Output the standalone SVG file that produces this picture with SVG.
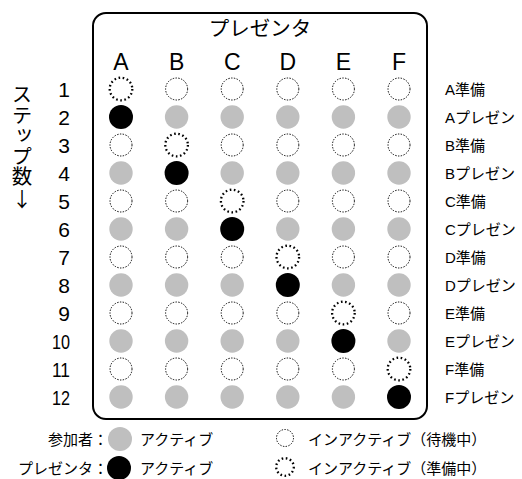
<svg xmlns="http://www.w3.org/2000/svg" width="522" height="479" viewBox="0 0 522 479">
<style>
text{font-family:"Liberation Sans","Noto Sans CJK JP",sans-serif;fill:#000}
.jp{font-family:"Noto Sans CJK JP",sans-serif}
.col{font-size:23px;text-anchor:middle}
.num{font-size:21px;text-anchor:end}
.lbl{font-size:15px}
.leg{font-size:15px}
.w{fill:#fff;stroke:#000;stroke-width:1;stroke-dasharray:1.4 1.4}
.p{fill:#fff;stroke:#000;stroke-width:2.3;stroke-dasharray:1.6 2.6}
.a{fill:#bfbfbf}
.k{fill:#000}
</style>
<g id="frame">
<rect x="93" y="13" width="334" height="406" rx="13" ry="13" fill="none" stroke="#000" stroke-width="2"/>
<text class="jp" x="260" y="36" font-size="20.5" text-anchor="middle">プレゼンタ</text>
</g>
<g id="columns">
<text class="col" x="121" y="70">A</text>
<text class="col" x="176.6" y="70">B</text>
<text class="col" x="232.2" y="70">C</text>
<text class="col" x="287.8" y="70">D</text>
<text class="col" x="343.4" y="70">E</text>
<text class="col" x="399" y="70">F</text>
</g>
<g id="axis">
<text class="jp" x="22" y="84" font-size="20.5" writing-mode="vertical-rl" style="writing-mode:vertical-rl">ステップ数</text>
<text class="jp" x="22" y="207" font-size="20" text-anchor="middle">↓</text>
</g>
<g id="steps">
<text class="num" x="70" y="97">1</text>
<text class="num" x="70" y="125">2</text>
<text class="num" x="70" y="153">3</text>
<text class="num" x="70" y="181">4</text>
<text class="num" x="70" y="209">5</text>
<text class="num" x="70" y="237">6</text>
<text class="num" x="70" y="265">7</text>
<text class="num" x="70" y="293">8</text>
<text class="num" x="70" y="321">9</text>
<text class="num" x="70" y="349" textLength="18" lengthAdjust="spacingAndGlyphs">10</text>
<text class="num" x="70" y="377" textLength="18" lengthAdjust="spacingAndGlyphs">11</text>
<text class="num" x="70" y="405" textLength="18" lengthAdjust="spacingAndGlyphs">12</text>
</g>
<g id="row1"><circle class="p" cx="121" cy="89" r="11.3"/><circle class="w" cx="176.6" cy="89" r="11"/><circle class="w" cx="232.2" cy="89" r="11"/><circle class="w" cx="287.8" cy="89" r="11"/><circle class="w" cx="343.4" cy="89" r="11"/><circle class="w" cx="399" cy="89" r="11"/></g>
<g id="row2"><circle class="k" cx="121" cy="117" r="12"/><circle class="a" cx="176.6" cy="117" r="11.7"/><circle class="a" cx="232.2" cy="117" r="11.7"/><circle class="a" cx="287.8" cy="117" r="11.7"/><circle class="a" cx="343.4" cy="117" r="11.7"/><circle class="a" cx="399" cy="117" r="11.7"/></g>
<g id="row3"><circle class="w" cx="121" cy="145" r="11"/><circle class="p" cx="176.6" cy="145" r="11.3"/><circle class="w" cx="232.2" cy="145" r="11"/><circle class="w" cx="287.8" cy="145" r="11"/><circle class="w" cx="343.4" cy="145" r="11"/><circle class="w" cx="399" cy="145" r="11"/></g>
<g id="row4"><circle class="a" cx="121" cy="173" r="11.7"/><circle class="k" cx="176.6" cy="173" r="12"/><circle class="a" cx="232.2" cy="173" r="11.7"/><circle class="a" cx="287.8" cy="173" r="11.7"/><circle class="a" cx="343.4" cy="173" r="11.7"/><circle class="a" cx="399" cy="173" r="11.7"/></g>
<g id="row5"><circle class="w" cx="121" cy="201" r="11"/><circle class="w" cx="176.6" cy="201" r="11"/><circle class="p" cx="232.2" cy="201" r="11.3"/><circle class="w" cx="287.8" cy="201" r="11"/><circle class="w" cx="343.4" cy="201" r="11"/><circle class="w" cx="399" cy="201" r="11"/></g>
<g id="row6"><circle class="a" cx="121" cy="229" r="11.7"/><circle class="a" cx="176.6" cy="229" r="11.7"/><circle class="k" cx="232.2" cy="229" r="12"/><circle class="a" cx="287.8" cy="229" r="11.7"/><circle class="a" cx="343.4" cy="229" r="11.7"/><circle class="a" cx="399" cy="229" r="11.7"/></g>
<g id="row7"><circle class="w" cx="121" cy="257" r="11"/><circle class="w" cx="176.6" cy="257" r="11"/><circle class="w" cx="232.2" cy="257" r="11"/><circle class="p" cx="287.8" cy="257" r="11.3"/><circle class="w" cx="343.4" cy="257" r="11"/><circle class="w" cx="399" cy="257" r="11"/></g>
<g id="row8"><circle class="a" cx="121" cy="285" r="11.7"/><circle class="a" cx="176.6" cy="285" r="11.7"/><circle class="a" cx="232.2" cy="285" r="11.7"/><circle class="k" cx="287.8" cy="285" r="12"/><circle class="a" cx="343.4" cy="285" r="11.7"/><circle class="a" cx="399" cy="285" r="11.7"/></g>
<g id="row9"><circle class="w" cx="121" cy="313" r="11"/><circle class="w" cx="176.6" cy="313" r="11"/><circle class="w" cx="232.2" cy="313" r="11"/><circle class="w" cx="287.8" cy="313" r="11"/><circle class="p" cx="343.4" cy="313" r="11.3"/><circle class="w" cx="399" cy="313" r="11"/></g>
<g id="row10"><circle class="a" cx="121" cy="341" r="11.7"/><circle class="a" cx="176.6" cy="341" r="11.7"/><circle class="a" cx="232.2" cy="341" r="11.7"/><circle class="a" cx="287.8" cy="341" r="11.7"/><circle class="k" cx="343.4" cy="341" r="12"/><circle class="a" cx="399" cy="341" r="11.7"/></g>
<g id="row11"><circle class="w" cx="121" cy="369" r="11"/><circle class="w" cx="176.6" cy="369" r="11"/><circle class="w" cx="232.2" cy="369" r="11"/><circle class="w" cx="287.8" cy="369" r="11"/><circle class="w" cx="343.4" cy="369" r="11"/><circle class="p" cx="399" cy="369" r="11.3"/></g>
<g id="row12"><circle class="a" cx="121" cy="397" r="11.7"/><circle class="a" cx="176.6" cy="397" r="11.7"/><circle class="a" cx="232.2" cy="397" r="11.7"/><circle class="a" cx="287.8" cy="397" r="11.7"/><circle class="a" cx="343.4" cy="397" r="11.7"/><circle class="k" cx="399" cy="397" r="12"/></g>
<g id="labels">
<text class="lbl" x="445" y="94.5">A準備</text>
<text class="lbl" x="445" y="122.5">Aプレゼン</text>
<text class="lbl" x="445" y="150.5">B準備</text>
<text class="lbl" x="445" y="178.5">Bプレゼン</text>
<text class="lbl" x="445" y="206.5">C準備</text>
<text class="lbl" x="445" y="234.5">Cプレゼン</text>
<text class="lbl" x="445" y="262.5">D準備</text>
<text class="lbl" x="445" y="290.5">Dプレゼン</text>
<text class="lbl" x="445" y="318.5">E準備</text>
<text class="lbl" x="445" y="346.5">Eプレゼン</text>
<text class="lbl" x="445" y="374.5">F準備</text>
<text class="lbl" x="445" y="402.5">Fプレゼン</text>
</g>
<g id="legend">
<text class="leg jp" x="108" y="444.5" text-anchor="end">参加者：</text>
<circle class="a" cx="120" cy="439" r="12"/>
<text class="leg jp" x="140" y="444.5">アクティブ</text>
<text class="leg jp" x="108" y="473.5" text-anchor="end">プレゼンタ：</text>
<circle class="k" cx="119" cy="468" r="12"/>
<text class="leg jp" x="140" y="473.5">アクティブ</text>
<circle class="w" cx="285" cy="438" r="8.5"/>
<text class="leg jp" x="308" y="444.5">インアクティブ（待機中）</text>
<circle class="p" cx="285" cy="467" r="8.8"/>
<text class="leg jp" x="308" y="473.5">インアクティブ（準備中）</text>
</g>
</svg>
